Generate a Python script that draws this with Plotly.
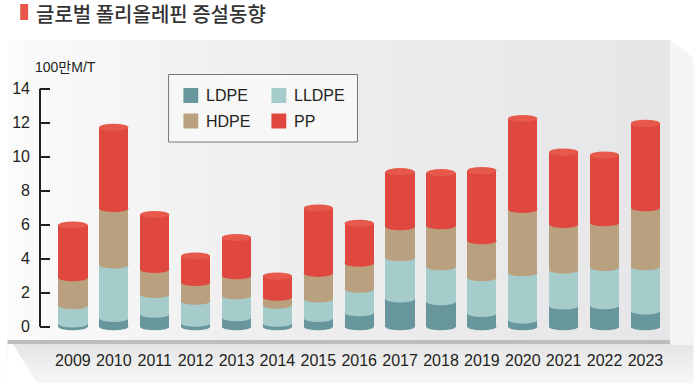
import base64
import plotly.graph_objects as go

# ---------------- data ----------------
years = ["2009", "2010", "2011", "2012", "2013", "2014", "2015", "2016",
         "2017", "2018", "2019", "2020", "2021", "2022", "2023"]
series_names = ["LDPE", "LLDPE", "HDPE", "PP"]
ldpe = [0.16, 0.49, 0.73, 0.20, 0.53, 0.20, 0.49, 0.82, 1.63, 1.47, 0.78, 0.39, 1.22, 1.24, 0.92]
lldpe = [1.08, 3.14, 1.17, 1.30, 1.29, 1.07, 1.14, 1.38, 2.43, 2.06, 2.10, 2.79, 2.11, 2.25, 2.61]
hdpe = [1.64, 3.33, 1.47, 1.10, 1.18, 0.46, 1.51, 1.53, 1.82, 2.41, 2.18, 3.72, 2.69, 2.63, 3.47]
pp = [3.10, 4.77, 3.23, 1.56, 2.25, 1.25, 3.84, 2.35, 3.24, 3.12, 4.12, 5.35, 4.25, 3.98, 4.96]
y_ticks = [0, 2, 4, 6, 8, 10, 12, 14]
unit_label = "100만M/T"
title_text = "글로벌 폴리올레핀 증설동향"

# ---------------- style ----------------
colors = ["#67969c", "#a6cbcb", "#b9a07e", "#e0483f"]
cap_color = "#e75a4b"
text_color = "#231f20"
W, H = 694, 383
ML, MR, MT, MB = 33, 24, 63, 50
PW, PH = W - ML - MR, H - MT - MB
ZERO_PX, PX_PER_UNIT = 326.7, 17.0
BAR_W = 0.714
ELL = 0.21  # half-height of the cylinder ellipses, in data units

y_lo = -(MT + PH - ZERO_PX) / PX_PER_UNIT
y_hi = (ZERO_PX - MT) / PX_PER_UNIT
x_lo, x_hi = -0.805, 14.6


def px2x(px):
    return (px - ML) / PW


def py2y(py):
    return 1 - (py - MT) / PH


xs = list(range(len(years)))
series = [ldpe, lldpe, hdpe, pp]

fig = go.Figure()
for name, vals, col in zip(series_names, series, colors):
    fig.add_trace(go.Bar(x=xs, y=vals, name=name, width=BAR_W,
                         marker=dict(color=col, line=dict(width=0)),
                         showlegend=False, hoverinfo="x+y+name"))

shapes = []
# cylinder ellipses
bases = [0.0] * len(xs)
for k, (vals, col) in enumerate(zip(series, colors)):
    for i in xs:
        b = bases[i]
        shapes.append(dict(type="circle", xref="x", yref="y", layer="above",
                           x0=i - BAR_W / 2, x1=i + BAR_W / 2,
                           y0=b - ELL, y1=b + ELL,
                           fillcolor=col, line=dict(width=0)))
    bases = [b + v for b, v in zip(bases, vals)]
for i in xs:
    shapes.append(dict(type="circle", xref="x", yref="y", layer="above",
                       x0=i - BAR_W / 2, x1=i + BAR_W / 2,
                       y0=bases[i] - ELL, y1=bases[i] + ELL,
                       fillcolor=cap_color, line=dict(width=0)))

# y axis line (0..14)
shapes.append(dict(type="line", xref="paper", yref="y", x0=0, x1=0,
                   y0=y_ticks[0], y1=y_ticks[-1], line=dict(color=text_color, width=2)))

# title marker
shapes.append(dict(type="rect", xref="paper", yref="paper",
                   x0=px2x(13), x1=px2x(21), y0=py2y(20), y1=py2y(4),
                   fillcolor="#e8574a", line=dict(width=0)))

# legend box
shapes.append(dict(type="rect", xref="paper", yref="paper", layer="above",
                   x0=px2x(163), x1=px2x(354), y0=py2y(142), y1=py2y(74.5),
                   fillcolor="#f7f7f7", line=dict(color="#777777", width=1)))
annotations = []
leg_pos = [(178, 95.5), (267, 95.5), (178, 121), (267, 121)]
for (lx, ly), name, col in zip(leg_pos, series_names, colors):
    shapes.append(dict(type="rect", xref="paper", yref="paper", layer="above",
                       x0=px2x(lx), x1=px2x(lx + 15), y0=py2y(ly + 7.5), y1=py2y(ly - 7.5),
                       fillcolor=col, line=dict(width=0)))
    annotations.append(dict(text=name, xref="paper", yref="paper",
                            x=px2x(lx + 21), y=py2y(ly), xanchor="left", yanchor="middle",
                            showarrow=False,
                            font=dict(family="Liberation Sans, Arial", size=16, color=text_color)))

annotations.append(dict(text=title_text, xref="paper", yref="paper",
                        x=px2x(27), y=py2y(14), xanchor="left", yanchor="middle",
                        showarrow=False,
                        font=dict(family="Noto Sans CJK KR", size=20, color="#333333",
                                  weight=500)))
annotations.append(dict(text=unit_label, xref="paper", yref="paper",
                        x=px2x(26), y=py2y(67), xanchor="left", yanchor="middle",
                        showarrow=False,
                        font=dict(family="Liberation Sans, Noto Sans CJK KR", size=14, color=text_color)))

# background panel as svg
svg = f'''<svg xmlns="http://www.w3.org/2000/svg" width="{W}" height="{H}" viewBox="0 0 {W} {H}">
<defs>
<linearGradient id="p" x1="0" y1="0" x2="1" y2="0">
<stop offset="0" stop-color="#fbfbfb"/><stop offset="0.35" stop-color="#efeff0"/>
<stop offset="1" stop-color="#e6e6e8"/></linearGradient>
<linearGradient id="f" x1="0" y1="0" x2="0" y2="1">
<stop offset="0" stop-color="#e4e4e6"/><stop offset="1" stop-color="#f7f7f7"/></linearGradient>
</defs>
<rect x="0" y="0" width="{W}" height="{H}" fill="#ffffff"/>
<polygon points="0,343 694,343 694,383 0,383" fill="url(#f)"/>
<polygon points="0,343 5,343 30,383 0,383" fill="#ffffff"/>
<polygon points="670,40 694,58 694,345 670,345" fill="#f4f4f5"/>
<rect x="0" y="40" width="670" height="300" fill="url(#p)"/>
<rect x="0" y="340" width="670" height="4" fill="#bdbdbf"/>
</svg>'''
src = "data:image/svg+xml;base64," + base64.b64encode(svg.encode()).decode()

fig.update_layout(
    width=W, height=H,
    margin=dict(l=ML, r=MR, t=MT, b=MB, pad=0),
    paper_bgcolor="#ffffff", plot_bgcolor="rgba(0,0,0,0)",
    barmode="stack", bargap=0,
    shapes=shapes, annotations=annotations,
    images=[dict(source=src, xref="paper", yref="paper",
                 x=-ML / PW, y=1 + MT / PH, sizex=W / PW, sizey=H / PH,
                 xanchor="left", yanchor="top", sizing="stretch", layer="below")],
    xaxis=dict(range=[x_lo, x_hi], tickvals=xs, ticktext=years, showgrid=False,
               zeroline=False, showline=False, ticks="", ticklabelstandoff=16,
               tickfont=dict(family="Liberation Sans, Arial", size=16, color=text_color)),
    yaxis=dict(range=[y_lo, y_hi], tickvals=y_ticks, showgrid=False, zeroline=False,
               showline=False, ticks="inside", ticklen=10, tickwidth=2, tickcolor=text_color,
               ticklabelstandoff=9,
               tickfont=dict(family="Liberation Sans, Arial", size=16, color=text_color)),
    showlegend=False,
)

fig.write_html("out.html", config={"displayModeBar": False},
               post_script="document.body.style.margin='0';document.body.style.padding='0';")
